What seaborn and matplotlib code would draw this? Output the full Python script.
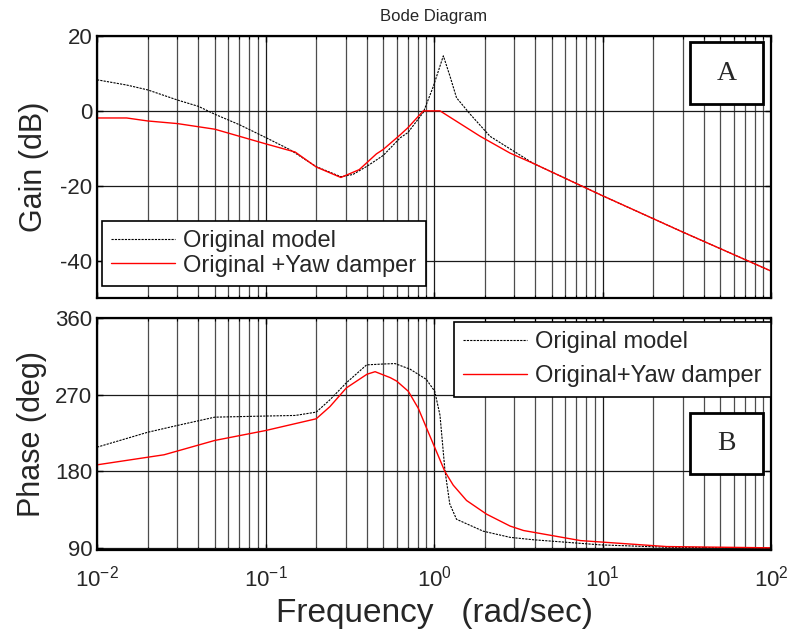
import numpy as np
import pandas as pd
import matplotlib
matplotlib.use("Agg")
import matplotlib.pyplot as plt
from matplotlib.patches import Rectangle
import seaborn as sns

# ---------------- data ----------------
gain_orig_f = [0.01, 0.015, 0.02, 0.03, 0.04, 0.05, 0.07, 0.1, 0.14, 0.2, 0.28, 0.33,
               0.4, 0.5, 0.63, 0.70, 0.864, 0.99, 1.136, 1.245, 1.36, 1.64, 2.15, 3.87,
               9.7, 30, 100]
gain_orig = [8.3, 6.9, 5.6, 2.9, 1.2, -0.9, -3.7, -7.1, -10.4, -14.9, -17.6, -17.0,
             -14.8, -11.9, -7.2, -5.8, -0.4, 6.5, 14.7, 9.2, 3.5, -0.9, -6.8, -14.0,
             -22.4, -32.4, -42.8]

gain_red_f = [0.01, 0.015, 0.02, 0.03, 0.05, 0.1, 0.15, 0.2, 0.28, 0.36, 0.455, 0.5,
              0.63, 0.70, 0.864, 1.085, 1.88, 2.83, 3.87, 9.7, 30, 100]
gain_red = [-1.9, -1.9, -2.7, -3.4, -4.9, -8.8, -11.0, -15.0, -17.8, -15.7, -11.5, -10.3,
            -6.4, -4.5, 0.0, 0.0, -6.8, -11.3, -14.0, -22.4, -32.4, -42.8]

phase_orig_f = [0.01, 0.02, 0.03, 0.05, 0.1, 0.15, 0.2, 0.241, 0.302, 0.398, 0.5, 0.587,
                0.72, 0.90, 1.01, 1.085, 1.16, 1.24, 1.36, 1.96, 2.83, 3.87, 9.7, 24, 100]
phase_orig = [208.5, 226, 234, 243.7, 245, 245.7, 249.6, 264, 284, 305, 306, 306.5,
              300, 288, 274, 246, 182, 142, 124, 110, 102.8, 100, 94, 91.2, 90.3]

phase_red_f = [0.01, 0.025, 0.05, 0.1, 0.2, 0.241, 0.302, 0.4, 0.447, 0.55, 0.6, 0.704,
               0.807, 0.925, 1.16, 1.30, 1.56, 2.05, 2.83, 3.4, 7.4, 24, 100]
phase_red = [187.8, 199.6, 216.4, 228, 241.8, 256, 278, 294, 297, 290, 286, 274,
             254, 226, 180, 164, 146, 130, 116, 110.8, 99, 92, 90.5]

gain_ticks = [-40, -20, 0, 20]
phase_ticks = [90, 180, 270, 360]
freq_ticks = [1e-2, 1e-1, 1e0, 1e1, 1e2]
freq_labels = [r"$10^{-2}$", r"$10^{-1}$", r"$10^{0}$", r"$10^{1}$", r"$10^{2}$"]

# ---------------- style ----------------
sns.set_style("ticks")
plt.rcParams["font.family"] = ["Liberation Sans", "DejaVu Sans"]
plt.rcParams["mathtext.fontset"] = "custom"
plt.rcParams["mathtext.rm"] = "Liberation Sans"
plt.rcParams["mathtext.it"] = "Liberation Sans:italic"
plt.rcParams["axes.unicode_minus"] = False

fig = plt.figure(figsize=(7.92, 6.35), dpi=100)
ax1 = fig.add_axes([0.1225, 0.5307, 0.851, 0.4126])
ax2 = fig.add_axes([0.1225, 0.1339, 0.851, 0.3654])

dash = (0, (2.0, 1.0))

sns.lineplot(x=gain_orig_f, y=gain_orig, ax=ax1, color="black", lw=0.8,
             linestyle=dash, label="Original model")
sns.lineplot(x=gain_red_f, y=gain_red, ax=ax1, color="red", lw=1.0,
             label="Original +Yaw damper")
sns.lineplot(x=phase_orig_f, y=phase_orig, ax=ax2, color="black", lw=0.8,
             linestyle=dash, label="Original model")
sns.lineplot(x=phase_red_f, y=phase_red, ax=ax2, color="red", lw=1.0,
             label="Original+Yaw damper")

for ax in (ax1, ax2):
    ax.set_xscale("log")
    ax.set_xlim(0.01, 100)
    ax.set_xticks(freq_ticks)
    ax.grid(True, which="major", axis="both", color="0.1", lw=0.9)
    ax.grid(True, which="minor", axis="x", color="0.3", lw=0.9)
    ax.tick_params(which="both", direction="in", top=True, right=True,
                   labelsize=16, color="black")
    ax.tick_params(which="major", length=4, width=1)
    ax.tick_params(which="minor", length=2.5, width=0.8)
    for s in ax.spines.values():
        s.set_linewidth(1.6)
        s.set_color("black")
    ax.set_axisbelow(True)

ax1.set_ylim(-50, 20)
ax1.set_yticks(gain_ticks)
ax1.set_yticklabels([str(t) for t in gain_ticks])
ax1.tick_params(labelbottom=False)
ax1.set_xlabel("")
ax1.set_ylabel("Gain (dB)", fontsize=22, labelpad=8)
ax1.set_title("Bode Diagram", fontsize=12, pad=11)

ax2.set_ylim(88, 360)
ax2.set_yticks(phase_ticks)
ax2.set_yticklabels([str(t) for t in phase_ticks])
ax2.set_xticklabels(freq_labels)
ax2.tick_params(axis="x", which="major", pad=11)
ax2.set_ylabel("Phase (deg)", fontsize=22, labelpad=6)
ax2.set_xlabel("Frequency   (rad/sec)", fontsize=24, labelpad=5)

leg_kw = dict(fontsize=17, frameon=True, fancybox=False, edgecolor="black",
              framealpha=1, borderaxespad=0, handlelength=2.7, handletextpad=0.35,
              borderpad=0.4)
l1 = ax1.legend(loc="lower left", bbox_to_anchor=(0.0074, 0.046),
                labelspacing=0.1, **leg_kw)
l1.get_frame().set_linewidth(1.2)
l2 = ax2.legend(loc="upper right", bbox_to_anchor=(1.0, 0.983),
                labelspacing=0.5, **leg_kw)
l2.get_frame().set_linewidth(1.2)

# annotation boxes A / B
def label_box(ax, x0, y0, x1, y1, text):
    ax.add_patch(Rectangle((x0, y0), x1 - x0, y1 - y0, transform=ax.transAxes,
                           facecolor="white", edgecolor="black", lw=2, zorder=5))
    ax.text((x0 + x1) / 2, (y0 + y1) / 2, text, transform=ax.transAxes,
            ha="center", va="center", fontsize=20,
            family=["Liberation Serif", "DejaVu Serif"], zorder=6)

label_box(ax1, 0.880, 0.740, 0.988, 0.977, "A")
label_box(ax2, 0.880, 0.328, 0.988, 0.591, "B")

fig.savefig("out.png", dpi=100)
